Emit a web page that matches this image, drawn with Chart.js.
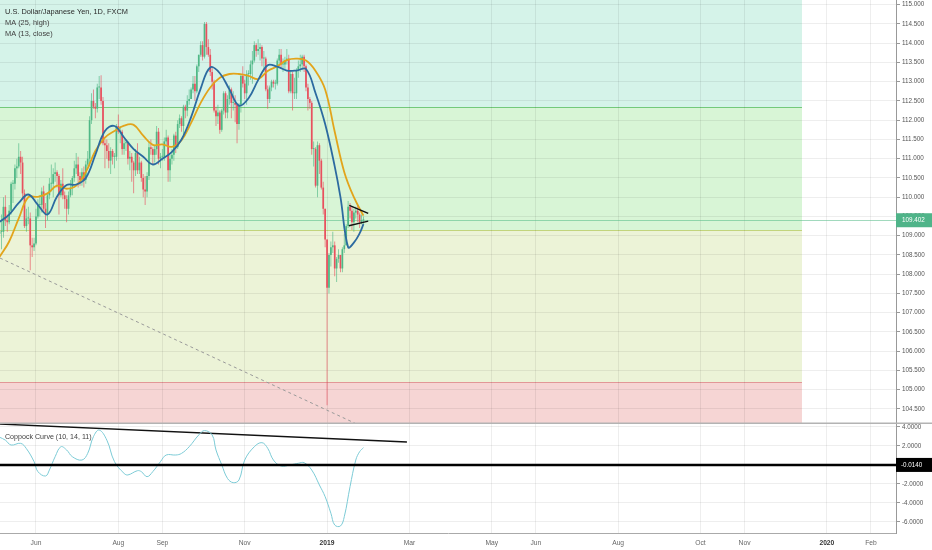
<!DOCTYPE html>
<html lang="en">
<head>
<meta charset="UTF-8">
<title>U.S. Dollar/Japanese Yen, 1D, FXCM</title>
<script src="https://cdn.jsdelivr.net/npm/chart.js"></script>
<style>
    body { margin: 0; background: #fff; }
    .wrap { position: relative; width: 932px; height: 550px; overflow: hidden; }
    #priceChart { position: absolute; left: 0; top: 0; }
    #coppockChart { position: absolute; left: 0; top: 424px; }
</style>
</head>
<body>
<div class="wrap">
    <canvas id="priceChart" width="932" height="424"></canvas>
    <canvas id="coppockChart" width="932" height="126"></canvas>
</div>
<script>
// daily bars, index 0 = 7 May 2018 (weekdays)
const opens = [
    109.05,109.10,109.10,109.75,109.40,109.35,109.65,110.35,110.35,110.75,
    110.80,111.05,110.90,110.10,109.25,109.45,109.45,108.75,108.70,108.80,
    109.50,109.80,109.80,110.15,109.70,109.55,110.05,110.35,110.35,110.60,
    110.65,110.55,110.05,110.35,110.05,109.95,109.70,110.05,110.25,110.50,
    110.75,110.85,110.55,110.45,110.65,110.45,110.85,111.00,112.00,112.50,
    112.35,112.30,112.85,112.85,112.50,111.40,111.35,111.20,110.95,111.20,
    111.05,111.05,111.85,111.70,111.70,111.25,111.40,111.40,111.00,111.05,
    110.90,110.70,111.15,110.70,110.90,110.50,110.20,110.15,110.55,111.30,
    111.25,111.10,111.25,111.70,111.00,111.05,111.05,111.45,111.55,110.70,
    111.00,111.10,111.60,111.30,111.90,112.05,111.85,112.35,112.25,112.50,
    112.55,112.80,112.95,112.75,113.40,113.70,113.95,113.65,114.50,113.90,
    113.70,113.25,113.00,112.25,112.10,112.20,111.75,112.25,112.70,112.20,
    112.55,112.80,112.45,112.45,112.40,111.90,112.40,113.15,112.95,112.70,
    113.20,113.20,113.45,113.55,113.95,113.80,113.85,113.90,113.60,113.60,
    112.80,112.55,112.85,113.00,112.95,112.95,113.55,113.70,113.45,113.45,
    113.55,113.60,112.75,113.20,112.70,112.70,113.30,113.40,113.45,113.65,
    113.40,112.85,112.55,112.45,111.25,111.25,110.30,111.35,110.95,110.25,
    109.70,108.90,107.65,108.50,108.70,108.75,108.15,108.40,108.50,108.15,
    108.65,108.75,109.25,109.75,109.65,109.35,109.60,109.65,109.55,109.35,109.40
];
const highs = [
    109.40,109.55,110.00,110.05,109.55,109.80,110.40,110.45,110.85,111.00,
    111.40,111.20,111.05,110.20,109.70,109.75,109.60,108.95,108.95,109.70,
    109.95,110.05,110.25,110.30,109.85,110.10,110.50,110.85,110.75,110.90,
    110.70,110.60,110.45,110.75,110.15,110.05,110.15,110.45,110.55,110.95,
    111.15,111.05,110.65,110.75,110.80,110.95,111.20,112.10,112.70,112.80,
    112.45,112.95,113.15,113.17,112.60,111.50,111.50,111.40,111.30,111.25,
    111.15,111.90,112.15,111.85,111.75,111.50,111.50,111.45,111.20,111.15,
    110.95,111.25,111.40,111.05,110.95,110.60,110.55,110.65,111.45,111.50,
    111.30,111.35,111.85,111.80,111.15,111.25,111.55,111.75,111.60,111.10,
    111.25,111.65,111.70,112.00,112.15,112.10,112.40,112.40,112.65,112.80,
    112.85,113.15,113.15,113.45,113.70,114.05,114.05,114.55,114.55,114.10,
    113.85,113.40,113.05,112.35,112.40,112.25,112.30,112.75,112.75,112.65,
    112.90,112.85,112.75,112.65,112.45,112.45,113.20,113.40,113.05,113.30,
    113.30,113.55,113.80,114.05,114.00,114.10,114.00,113.95,113.80,113.65,
    112.90,112.90,113.05,113.05,113.05,113.60,113.85,113.85,113.60,113.65,
    113.85,113.70,113.30,113.25,113.10,113.35,113.55,113.70,113.70,113.70,
    113.45,112.95,112.60,112.50,111.45,111.30,111.45,111.40,111.00,110.40,
    109.70,108.90,108.55,108.85,109.10,108.85,108.45,108.65,108.50,108.70,
    109.05,109.30,109.90,109.85,109.75,109.70,109.75,109.80,109.60,109.55,109.50
];
const lows = [
    108.95,108.65,108.95,109.25,109.10,109.30,109.55,109.85,110.20,110.50,
    110.75,110.60,109.95,109.20,109.10,109.30,108.10,108.45,108.60,108.75,
    109.45,109.50,109.60,109.65,109.20,109.40,109.95,110.15,110.00,110.40,
    110.25,109.55,110.00,109.95,109.70,109.35,109.55,110.00,110.05,110.40,
    110.60,110.25,110.30,110.30,110.25,110.35,110.80,110.80,111.90,112.30,
    112.05,112.20,112.55,112.40,111.35,110.75,111.00,110.75,110.60,110.85,
    110.75,110.95,111.65,111.40,111.10,111.10,111.20,110.85,110.70,110.40,
    110.10,110.55,110.60,110.60,110.40,110.00,109.80,110.00,110.45,111.10,
    110.85,110.90,111.10,110.85,110.75,110.95,110.95,111.35,110.40,110.40,
    110.85,110.95,111.15,111.25,111.80,111.70,111.60,112.05,112.10,112.40,
    112.55,112.70,112.50,112.70,113.25,113.65,113.55,113.60,113.70,113.65,
    113.15,112.80,112.20,111.85,111.90,111.65,111.70,112.15,112.05,112.05,
    112.40,112.05,112.25,111.95,111.40,111.75,112.20,112.85,112.55,112.40,
    112.90,113.05,112.95,113.50,113.65,113.70,113.55,113.40,113.25,112.75,
    112.30,112.45,112.75,112.85,112.80,112.90,113.40,113.35,113.25,113.30,
    113.45,112.70,112.70,112.25,112.55,112.55,113.10,113.25,113.30,113.25,
    112.75,112.25,112.30,111.10,110.80,110.25,110.00,110.60,110.20,109.55,
    108.70,104.60,107.50,108.20,108.55,107.95,107.80,108.30,108.05,108.05,
    108.55,108.75,109.20,109.45,109.15,109.10,109.45,109.35,109.20,109.30,109.30
];
const closes = [
    109.10,109.10,109.75,109.40,109.35,109.65,110.35,110.35,110.75,110.80,
    111.05,110.90,110.10,109.25,109.45,109.45,108.75,108.70,108.80,109.50,
    109.80,109.80,110.15,109.70,109.55,110.05,110.35,110.35,110.60,110.65,
    110.55,110.05,110.35,110.05,109.95,109.70,110.05,110.25,110.50,110.75,
    110.85,110.55,110.45,110.65,110.45,110.85,111.00,112.00,112.50,112.35,
    112.30,112.85,112.85,112.50,111.40,111.35,111.20,110.95,111.20,111.05,
    111.05,111.85,111.70,111.70,111.25,111.40,111.40,111.00,111.05,110.90,
    110.70,111.15,110.70,110.90,110.50,110.20,110.15,110.55,111.30,111.25,
    111.10,111.25,111.70,111.00,111.05,111.05,111.45,111.55,110.70,111.00,
    111.10,111.60,111.30,111.90,112.05,111.85,112.35,112.25,112.50,112.55,
    112.80,112.95,112.75,113.40,113.70,113.95,113.65,114.50,113.90,113.70,
    113.25,113.00,112.25,112.10,112.20,111.75,112.25,112.70,112.20,112.55,
    112.80,112.45,112.45,112.40,111.90,112.40,113.15,112.95,112.70,113.20,
    113.20,113.45,113.55,113.95,113.80,113.85,113.90,113.60,113.60,112.80,
    112.55,112.85,113.00,112.95,112.95,113.55,113.70,113.45,113.45,113.55,
    113.60,112.75,113.20,112.70,112.70,113.30,113.40,113.45,113.65,113.40,
    112.85,112.55,112.45,111.25,111.25,110.30,111.35,110.95,110.25,109.70,
    108.90,107.65,108.50,108.70,108.75,108.15,108.40,108.50,108.15,108.65,
    108.75,109.25,109.75,109.65,109.35,109.60,109.65,109.55,109.35,109.40,109.40
];

// moving averages
const ma25Idx = [0,5,10,15,20,25,30,35,40,45,50,55,60,65,70,75,80,85,90,95,100,105,110,115,120,125,130,135,140,145,150,155,160,165,170,175,180,185,190];
const ma25Val = [108.45,108.85,109.45,110.0,110.01,110.1,110.3,110.22,110.3,110.65,111.2,111.55,111.72,111.86,111.88,111.6,111.36,111.37,111.31,111.48,111.93,112.45,112.85,113.1,113.2,113.2,113.15,113.07,113.28,113.4,113.56,113.6,113.55,113.28,112.8,111.7,110.65,110.0,109.52];
const ma13Idx = [0,5,10,15,20,25,30,35,40,45,50,55,60,65,70,75,80,85,90,95,100,105,110,115,120,125,130,135,140,145,150,155,160,165,170,175,178,182,185,188,190];
const ma13Val = [109.36,109.55,109.85,110.07,109.8,109.55,110.02,110.32,110.33,110.5,111.1,111.72,111.85,111.55,111.25,111.05,110.85,111.0,111.18,111.5,112.08,112.82,113.37,113.22,112.8,112.38,112.57,113.04,113.43,113.39,113.29,113.29,113.33,112.7,111.9,110.8,110.0,108.7,108.82,109.06,109.3];

// Coppock Curve (10, 14, 11)
const coppockIdx = [0,3,6,11,14,18,20,24,26,29,32,35,38,43,46,49,52,56,60,65,67,72,74,77,80,84,87,92,95,99,104,107,111,113,116,119,122,125,128,133,137,140,143,147,152,156,159,163,167,170,173,175,178,180,183,186,188,190];
const coppockVal = [2.9,2.6,2.08,2.26,1.7,0.33,-0.72,-1.18,-0.55,0.85,1.9,1.56,0.85,0.5,1.2,2.96,3.66,2.6,0.33,-0.9,-1.07,-0.62,-0.72,-1.25,-0.72,0.33,1.03,1.03,1.2,1.9,3.14,3.6,3.14,1.56,0,-1.43,-1.88,-1.6,0.5,1.9,2.33,1.74,0.5,-0.13,0,0.16,0.22,-0.55,-2.13,-3.36,-5.1,-6.34,-6.44,-5.46,-2.3,0.5,1.38,1.8];

// time axis
const monthIdx = [19, 62, 85, 128, 171, 214, 257, 280, 323, 366, 389, 432, 455];
const monthLabels = ['Jun', 'Aug', 'Sep', 'Nov', '2019', 'Mar', 'May', 'Jun', 'Aug', 'Oct', 'Nov', '2020', 'Feb'];

// drawings
const bandLevels = [116, 112.343, 109.148, 105.2, 103];
const bandEnd = 419;
const lastPrice = 109.402;
const hLineValue = -0.014;
const trendDashed = [{x: 0.21, y: 108.42}, {x: 185.6, y: 104.13}];
const triUpper = [{x: 182.6, y: 109.79}, {x: 192.5, y: 109.58}];
const triLower = [{x: 182.4, y: 109.26}, {x: 192.5, y: 109.38}];
const coppockTrend = [{x: 0.21, y: 4.29}, {x: 212.7, y: 2.4}];

const X_MIN = 0.21, X_MAX = 468.1;
const UP = '#4fb886', DOWN = '#e8505e';
const bandColors = ['#d5f3e9', '#d8f5d6', '#ecf3d7', '#f6d5d4'];
const levelColors = ['#74c97a', '#c2d47c', '#e29797'];
const GRID = 'rgba(0,0,0,0.065)';
const FONT = '"Liberation Sans", Arial, sans-serif';

Chart.defaults.font.family = FONT;
Chart.defaults.animation = false;

const ups = opens.map((o, i) => closes[i] >= o);
const bodyData = opens.map((o, i) => ({x: i, y: [o, closes[i]]}));
const wickData = lows.map((l, i) => ({x: i, y: [l, highs[i]]}));
const pairs = (idx, val) => idx.map((v, i) => ({x: v, y: val[i]}));

function monthTicks(scale) {
    scale.ticks = monthIdx.map(v => ({value: v}));
}

const bandsPlugin = {
    id: 'bands',
    beforeDraw(chart) {
        const {ctx, chartArea: a, scales: {x, y}} = chart;
        const x1 = x.getPixelForValue(bandEnd);
        ctx.save();
        ctx.beginPath();
        ctx.rect(a.left, a.top, a.right - a.left, a.bottom - a.top);
        ctx.clip();
        for (let k = 0; k < bandColors.length; k++) {
            const t = y.getPixelForValue(bandLevels[k]);
            const b = y.getPixelForValue(bandLevels[k + 1]);
            ctx.fillStyle = bandColors[k];
            ctx.fillRect(a.left, t, x1 - a.left, b - t);
        }
        ctx.lineWidth = 1;
        for (let k = 0; k < levelColors.length; k++) {
            const yy = Math.round(y.getPixelForValue(bandLevels[k + 1])) + 0.5;
            ctx.strokeStyle = levelColors[k];
            ctx.beginPath();
            ctx.moveTo(a.left, yy);
            ctx.lineTo(x1, yy);
            ctx.stroke();
        }
        ctx.restore();
    },
    beforeDatasetsDraw(chart) {
        const {ctx, chartArea: a, scales: {y}} = chart;
        const yy = Math.round(y.getPixelForValue(lastPrice)) + 0.5;
        ctx.save();
        ctx.strokeStyle = 'rgba(83,185,135,0.55)';
        ctx.lineWidth = 1;
        ctx.beginPath();
        ctx.moveTo(a.left, yy);
        ctx.lineTo(a.right, yy);
        ctx.stroke();
        ctx.restore();
    },
    afterDraw(chart) {
        const {ctx, chartArea: a, scales: {y}} = chart;
        ctx.save();
        // last price tag
        const yy = y.getPixelForValue(lastPrice);
        ctx.fillStyle = '#4fb489';
        ctx.fillRect(a.right, yy - 7, chart.width - a.right, 14);
        ctx.fillStyle = '#fff';
        ctx.font = '6.3px ' + FONT;
        ctx.textBaseline = 'middle';
        ctx.fillText(lastPrice.toFixed(3), a.right + 6, yy + 0.5);
        // legend
        ctx.textBaseline = 'alphabetic';
        ctx.font = '7.4px ' + FONT;
        ctx.fillStyle = '#2a2a2a';
        ctx.fillText('U.S. Dollar/Japanese Yen, 1D, FXCM', 5, 13.5);
        ctx.fillStyle = '#404040';
        ctx.fillText('MA (25, high)', 5, 24.5);
        ctx.fillText('MA (13, close)', 5, 35.5);
        // pane separator
        ctx.strokeStyle = '#b3b3b3';
        ctx.lineWidth = 1.5;
        ctx.beginPath();
        ctx.moveTo(0, chart.height - 0.75);
        ctx.lineTo(chart.width, chart.height - 0.75);
        ctx.stroke();
        ctx.restore();
    }
};

const lineDs = (label, data, color, width, order, extra) => Object.assign({
    type: 'line', label, data, borderColor: color, borderWidth: width,
    pointRadius: 0, pointHoverRadius: 0, fill: false, tension: 0, order
}, extra || {});

new Chart(document.getElementById('priceChart'), {
    type: 'bar',
    data: {
        datasets: [
            {
                label: 'wicks', data: wickData, grouped: false, order: 9,
                barThickness: 0.9, inflateAmount: 0, borderWidth: 0,
                backgroundColor: ups.map(u => u ? 'rgba(79,184,134,0.7)' : 'rgba(232,80,94,0.7)')
            },
            {
                label: 'bodies', data: bodyData, grouped: false, order: 8,
                barThickness: 1.7, inflateAmount: 0, borderWidth: 0, minBarLength: 1,
                backgroundColor: ups.map(u => u ? UP : DOWN)
            },
            lineDs('trend', trendDashed, '#9a9a9a', 1, 7, {borderDash: [3, 3]}),
            lineDs('MA (25, high)', pairs(ma25Idx, ma25Val), '#e2a41b', 1.8, 6, {tension: 0.4}),
            lineDs('MA (13, close)', pairs(ma13Idx, ma13Val), '#2c6aa0', 1.8, 5, {tension: 0.4}),
            lineDs('triangle upper', triUpper, '#111', 1.4, 2),
            lineDs('triangle lower', triLower, '#111', 1.4, 1)
        ]
    },
    options: {
        responsive: false,
        events: [],
        layout: {padding: 0, autoPadding: false},
        plugins: {legend: {display: false}, tooltip: {enabled: false}},
        scales: {
            x: {
                type: 'linear', min: X_MIN, max: X_MAX, offset: false,
                afterBuildTicks: monthTicks,
                ticks: {display: false},
                grid: {color: GRID, drawTicks: false, offset: false},
                border: {display: false},
                afterFit: s => { s.height = 0; s.paddingLeft = 0; s.paddingRight = 0; }
            },
            y: {
                position: 'right', min: 104.11, max: 115.122,
                ticks: {
                    stepSize: 0.5, includeBounds: false, maxTicksLimit: 100, autoSkip: false,
                    callback: v => v.toFixed(3), color: '#555', padding: 2,
                    font: {size: 6.3}
                },
                grid: {color: GRID, tickLength: 4, tickColor: '#999', drawTicks: true},
                border: {color: '#999'},
                afterFit: s => { s.width = 36; s.paddingTop = 0; s.paddingBottom = 0; }
            }
        }
    },
    plugins: [bandsPlugin]
});

const coppockPlugin = {
    id: 'coppockExtras',
    afterDatasetsDraw(chart) {
        const {ctx, chartArea: a, scales: {y}} = chart;
        const yy = y.getPixelForValue(hLineValue);
        ctx.save();
        ctx.strokeStyle = '#000';
        ctx.lineWidth = 2.6;
        ctx.beginPath();
        ctx.moveTo(a.left, yy);
        ctx.lineTo(a.right, yy);
        ctx.stroke();
        ctx.restore();
    },
    afterDraw(chart) {
        const {ctx, chartArea: a, scales: {y}} = chart;
        const yy = y.getPixelForValue(hLineValue);
        ctx.save();
        ctx.fillStyle = '#000';
        ctx.fillRect(a.right, yy - 7, chart.width - a.right, 14);
        ctx.fillStyle = '#fff';
        ctx.font = '6.3px ' + FONT;
        ctx.textBaseline = 'middle';
        ctx.fillText(hLineValue.toFixed(4), a.right + 5, yy + 0.5);
        ctx.textBaseline = 'alphabetic';
        ctx.font = '7.1px ' + FONT;
        ctx.fillStyle = '#404040';
        ctx.fillText('Coppock Curve (10, 14, 11)', 5, 14.5);
        ctx.restore();
    }
};

new Chart(document.getElementById('coppockChart'), {
    type: 'line',
    data: {
        datasets: [
            lineDs('trend', coppockTrend, '#111', 1.4, 2),
            lineDs('Coppock Curve', pairs(coppockIdx, coppockVal), '#7ccbd6', 1, 1, {tension: 0.4})
        ]
    },
    options: {
        responsive: false,
        events: [],
        layout: {padding: 0, autoPadding: false},
        plugins: {legend: {display: false}, tooltip: {enabled: false}},
        scales: {
            x: {
                type: 'linear', min: X_MIN, max: X_MAX, offset: false,
                afterBuildTicks: monthTicks,
                ticks: {
                    autoSkip: false, maxRotation: 0, padding: 6,
                    callback: (v, i) => monthLabels[i],
                    color: ctx => /^\d{4}$/.test(monthLabels[ctx.index]) ? '#333' : '#666',
                    font: ctx => ({size: 6.7, weight: /^\d{4}$/.test(monthLabels[ctx.index]) ? 'bold' : 'normal'})
                },
                grid: {color: GRID, drawTicks: false},
                border: {color: '#aaa'},
                afterFit: s => { s.height = 17; s.paddingLeft = 0; s.paddingRight = 0; }
            },
            y: {
                position: 'right', min: -7.18, max: 4.295,
                ticks: {
                    stepSize: 2, includeBounds: false, autoSkip: false,
                    callback: v => v.toFixed(4), color: '#555', padding: 2,
                    font: {size: 6.3}
                },
                grid: {color: GRID, tickLength: 4, tickColor: '#999', drawTicks: true},
                border: {color: '#999'},
                afterFit: s => { s.width = 36; s.paddingTop = 0; s.paddingBottom = 0; }
            }
        }
    },
    plugins: [coppockPlugin]
});
</script>
</body>
</html>
